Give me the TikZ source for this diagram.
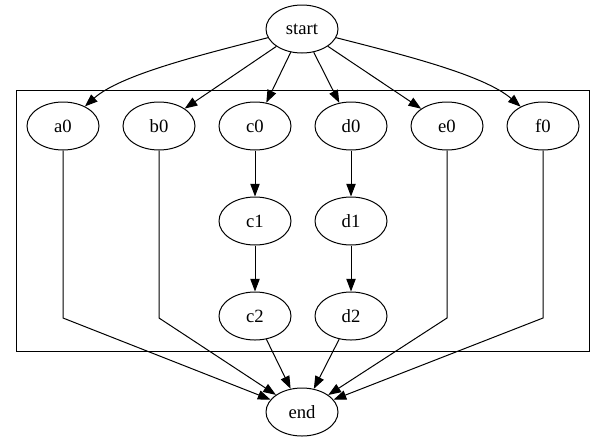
\documentclass[tikz,border=0pt]{standalone}
\usepackage{fontspec}
\setmainfont{Liberation Serif}
\usetikzlibrary{arrows.meta,shapes.geometric}
\begin{document}
\begin{tikzpicture}[x=0.75pt,y=-0.75pt,
  nd/.style={draw,ellipse,minimum width=54pt,minimum height=36pt,inner sep=0pt,line width=0.75pt,font=\fontsize{14}{16}\selectfont},
  ar/.style={line width=0.75pt,-{Triangle[length=9.5pt,width=7pt]}},
  ln/.style={line width=0.75pt}]
\useasboundingbox (0,0) rectangle (605,443);
\draw[ln] (16,90) rectangle (589,351);
\node[nd] (start) at (302,29) {start};
\node[nd] (a0) at (63,126) {a0};
\node[nd] (b0) at (159,126) {b0};
\node[nd] (c0) at (255,126) {c0};
\node[nd] (d0) at (351,126) {d0};
\node[nd] (e0) at (447,126) {e0};
\node[nd] (f0) at (543,126) {f0};
\node[nd] (c1) at (255,221) {c1};
\node[nd] (d1) at (351,221) {d1};
\node[nd] (c2) at (255,316) {c2};
\node[nd] (d2) at (351,316) {d2};
\node[nd] (end) at (302,412) {end};
\coordinate (ka) at (63,318);
\coordinate (kb) at (159,318);
\coordinate (ke) at (447,318);
\coordinate (kf) at (543,318);
\draw[ar] (start) .. controls (200,55) and (120,75) .. (a0);
\draw[ar] (start) .. controls (404,55) and (484,75) .. (f0);
\draw[ar] (start) -- (b0);
\draw[ar] (start) -- (c0);
\draw[ar] (start) -- (d0);
\draw[ar] (start) -- (e0);
\draw[ar] (c0) -- (c1);
\draw[ar] (c1) -- (c2);
\draw[ar] (d0) -- (d1);
\draw[ar] (d1) -- (d2);
\draw[ar] (c2) -- (end);
\draw[ar] (d2) -- (end);
\draw[ar] (a0) -- (ka) -- (end);
\draw[ar] (b0) -- (kb) -- (end);
\draw[ar] (e0) -- (ke) -- (end);
\draw[ar] (f0) -- (kf) -- (end);
\end{tikzpicture}
\end{document}
